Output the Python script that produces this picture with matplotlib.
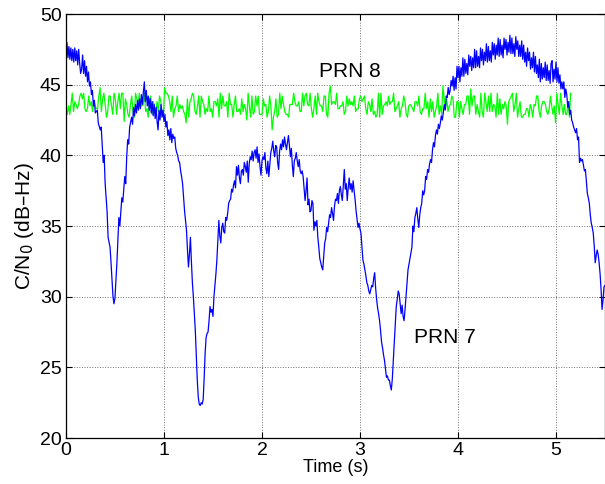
import matplotlib
matplotlib.use("Agg")
import matplotlib.pyplot as plt
import numpy as np

plt.rcParams['font.family'] = ['Liberation Sans', 'DejaVu Sans']

# PRN 7 C/N0 trace, (time s, dB-Hz)
prn7 = [
    (0.00, 47.2), (0.01, 48.0), (0.02, 46.9), (0.03, 47.7), (0.04, 46.8), (0.05, 47.6),
    (0.06, 46.7), (0.07, 47.5), (0.08, 46.6), (0.09, 47.6), (0.10, 46.7), (0.11, 47.4),
    (0.12, 46.4), (0.13, 47.5), (0.14, 46.5), (0.15, 45.8), (0.16, 46.1), (0.17, 47.1),
    (0.18, 45.8), (0.19, 46.7), (0.20, 45.6), (0.21, 46.3), (0.22, 45.2), (0.23, 45.9),
    (0.24, 44.9), (0.25, 45.2), (0.26, 44.3), (0.27, 44.6), (0.28, 43.5), (0.29, 43.9),
    (0.30, 43.0), (0.32, 43.2), (0.33, 42.3), (0.35, 41.8), (0.36, 42.0), (0.37, 40.8),
    (0.38, 39.5), (0.39, 40.0), (0.40, 38.0), (0.42, 36.0), (0.43, 34.2), (0.45, 33.5),
    (0.46, 32.4), (0.48, 30.0), (0.49, 29.5), (0.50, 29.9), (0.52, 32.4), (0.54, 35.6),
    (0.55, 35.0), (0.57, 37.0), (0.58, 36.7), (0.60, 38.5), (0.61, 38.0), (0.62, 39.9),
    (0.63, 41.1), (0.64, 40.8), (0.65, 42.0), (0.67, 42.7), (0.68, 42.2), (0.69, 43.4),
    (0.70, 42.8), (0.71, 43.6), (0.72, 43.0), (0.73, 43.9), (0.74, 43.2), (0.75, 44.0),
    (0.76, 43.3), (0.77, 44.3), (0.78, 43.6), (0.79, 44.5), (0.80, 45.2), (0.81, 43.8),
    (0.82, 44.6), (0.83, 43.5), (0.84, 44.2), (0.85, 43.2), (0.86, 44.0), (0.87, 43.0),
    (0.88, 43.8), (0.89, 42.8), (0.90, 43.6), (0.91, 42.6), (0.92, 43.4), (0.93, 42.4),
    (0.94, 41.8), (0.95, 43.2), (0.96, 42.5), (0.97, 43.6), (0.98, 42.7), (0.99, 43.2),
    (1.00, 42.4), (1.01, 42.9), (1.02, 42.0), (1.03, 42.4), (1.04, 41.4), (1.05, 41.8),
    (1.06, 41.1), (1.07, 41.9), (1.08, 40.9), (1.09, 41.5), (1.10, 41.2), (1.11, 41.3),
    (1.12, 40.5), (1.13, 40.2), (1.14, 40.0), (1.15, 39.6), (1.16, 39.5), (1.17, 38.9),
    (1.18, 38.5), (1.19, 38.0), (1.20, 37.0), (1.21, 36.1), (1.22, 35.4), (1.23, 34.7),
    (1.24, 33.3), (1.25, 32.1), (1.26, 33.0), (1.27, 34.2), (1.28, 32.5), (1.29, 31.0),
    (1.30, 30.0), (1.31, 28.8), (1.32, 27.6), (1.33, 25.8), (1.34, 24.1), (1.35, 22.9),
    (1.36, 22.4), (1.37, 22.3), (1.38, 22.5), (1.39, 22.4), (1.40, 22.7), (1.41, 24.2),
    (1.42, 26.0), (1.43, 27.1), (1.44, 27.4), (1.45, 27.5), (1.46, 28.3), (1.47, 29.3),
    (1.48, 28.9), (1.49, 29.1), (1.50, 28.6), (1.51, 30.0), (1.52, 30.8), (1.53, 31.6),
    (1.54, 32.6), (1.55, 34.0), (1.56, 35.4), (1.57, 34.3), (1.58, 33.8), (1.59, 34.9),
    (1.60, 35.2), (1.61, 34.6), (1.62, 34.5), (1.63, 35.6), (1.64, 35.4), (1.65, 35.9),
    (1.66, 36.6), (1.67, 36.8), (1.68, 36.9), (1.69, 37.6), (1.70, 37.4), (1.71, 37.9),
    (1.72, 38.2), (1.73, 37.7), (1.74, 39.2), (1.75, 38.6), (1.76, 39.3), (1.77, 38.4),
    (1.78, 38.0), (1.79, 38.9), (1.80, 39.0), (1.81, 38.6), (1.82, 39.5), (1.83, 39.2),
    (1.84, 38.8), (1.85, 39.6), (1.86, 38.1), (1.87, 39.4), (1.88, 39.9), (1.89, 39.7),
    (1.90, 40.3), (1.91, 39.6), (1.92, 40.2), (1.93, 40.4), (1.94, 39.8), (1.95, 40.6),
    (1.96, 39.5), (1.97, 40.1), (1.98, 39.2), (1.99, 38.6), (2.00, 39.6), (2.01, 39.9),
    (2.02, 39.7), (2.03, 40.2), (2.04, 39.1), (2.05, 38.7), (2.06, 39.6), (2.07, 38.5),
    (2.08, 39.4), (2.09, 40.2), (2.10, 40.5), (2.11, 41.0), (2.12, 40.3), (2.13, 39.9),
    (2.14, 40.7), (2.15, 40.6), (2.16, 39.5), (2.17, 39.0), (2.18, 40.3), (2.19, 40.8),
    (2.20, 40.4), (2.21, 41.1), (2.22, 40.6), (2.23, 41.3), (2.24, 40.8), (2.25, 40.4),
    (2.26, 40.9), (2.27, 41.4), (2.28, 40.7), (2.29, 39.9), (2.30, 40.5), (2.31, 39.3),
    (2.32, 38.5), (2.33, 39.6), (2.34, 39.8), (2.35, 40.2), (2.36, 39.6), (2.37, 39.2),
    (2.38, 39.7), (2.39, 38.9), (2.40, 38.7), (2.41, 38.9), (2.42, 38.5), (2.43, 37.6),
    (2.44, 36.8), (2.45, 37.5), (2.46, 38.4), (2.47, 36.5), (2.48, 36.9), (2.49, 36.0),
    (2.50, 36.1), (2.51, 36.8), (2.52, 36.6), (2.53, 34.7), (2.54, 35.3), (2.55, 35.0),
    (2.56, 35.4), (2.57, 34.2), (2.58, 33.5), (2.59, 32.7), (2.60, 32.4), (2.61, 32.1),
    (2.62, 31.9), (2.63, 32.8), (2.64, 33.8), (2.65, 34.1), (2.66, 34.9), (2.67, 34.6),
    (2.68, 35.2), (2.69, 35.8), (2.70, 35.6), (2.71, 36.3), (2.72, 35.9), (2.73, 35.4),
    (2.74, 36.4), (2.75, 36.9), (2.76, 36.8), (2.77, 37.3), (2.78, 36.6), (2.79, 37.5),
    (2.80, 37.8), (2.81, 37.2), (2.82, 36.8), (2.83, 37.9), (2.84, 39.0), (2.85, 37.6),
    (2.86, 38.0), (2.87, 36.8), (2.88, 37.7), (2.89, 38.4), (2.90, 37.6), (2.91, 38.0),
    (2.92, 37.4), (2.93, 38.2), (2.94, 37.5), (2.95, 36.9), (2.96, 36.1), (2.97, 35.5),
    (2.98, 34.9), (2.99, 35.2), (3.00, 34.8), (3.01, 34.5), (3.02, 33.6), (3.03, 32.6),
    (3.04, 32.3), (3.05, 31.9), (3.06, 31.5), (3.07, 31.0), (3.08, 30.8), (3.09, 30.4),
    (3.10, 30.2), (3.11, 30.5), (3.12, 30.8), (3.13, 30.7), (3.14, 31.3), (3.15, 31.7),
    (3.16, 30.6), (3.17, 29.8), (3.18, 29.2), (3.19, 28.8), (3.20, 28.3), (3.21, 27.6),
    (3.22, 26.8), (3.23, 26.4), (3.24, 25.9), (3.25, 25.5), (3.26, 24.9), (3.27, 24.3),
    (3.28, 24.4), (3.29, 24.1), (3.30, 24.1), (3.31, 23.7), (3.32, 23.4), (3.33, 24.2),
    (3.34, 25.5), (3.35, 26.9), (3.36, 28.1), (3.37, 29.3), (3.38, 29.8), (3.39, 30.4),
    (3.40, 30.2), (3.41, 29.5), (3.42, 28.8), (3.43, 29.4), (3.44, 28.6), (3.45, 28.3),
    (3.46, 29.1), (3.47, 30.0), (3.48, 31.0), (3.49, 31.9), (3.50, 32.3), (3.51, 32.7),
    (3.52, 33.1), (3.53, 33.5), (3.54, 35.0), (3.55, 34.6), (3.56, 35.6), (3.57, 35.9),
    (3.58, 36.3), (3.59, 35.5), (3.60, 34.9), (3.61, 35.8), (3.62, 36.3), (3.63, 36.6),
    (3.64, 37.5), (3.65, 37.2), (3.66, 37.5), (3.67, 38.5), (3.68, 38.3), (3.69, 39.0),
    (3.70, 38.8), (3.71, 39.4), (3.72, 39.7), (3.73, 39.5), (3.74, 40.4), (3.75, 40.9),
    (3.76, 40.6), (3.77, 41.4), (3.78, 41.8), (3.79, 41.5), (3.80, 42.2), (3.81, 41.9),
    (3.82, 42.3), (3.83, 42.8), (3.84, 42.5), (3.85, 43.0), (3.86, 43.6), (3.87, 43.2),
    (3.88, 44.2), (3.89, 44.1), (3.90, 44.8), (3.91, 44.3), (3.92, 44.6), (3.93, 45.3),
    (3.94, 44.9), (3.95, 45.6), (3.96, 44.6), (3.97, 45.5), (3.98, 44.7), (3.99, 46.3),
    (4.00, 45.5), (4.01, 46.3), (4.02, 45.2), (4.03, 46.2), (4.04, 45.6), (4.05, 46.9),
    (4.06, 45.6), (4.07, 46.8), (4.08, 45.8), (4.09, 46.5), (4.10, 45.7), (4.11, 47.1),
    (4.12, 46.3), (4.13, 47.0), (4.14, 46.0), (4.15, 46.9), (4.16, 46.2), (4.17, 47.5),
    (4.18, 46.2), (4.19, 47.4), (4.20, 46.3), (4.21, 47.0), (4.22, 46.2), (4.23, 47.6),
    (4.24, 46.7), (4.25, 47.5), (4.26, 46.4), (4.27, 47.3), (4.28, 46.7), (4.29, 47.9),
    (4.30, 46.6), (4.31, 47.7), (4.32, 46.7), (4.33, 47.4), (4.34, 46.6), (4.35, 48.0),
    (4.36, 47.1), (4.37, 47.9), (4.38, 46.8), (4.39, 47.8), (4.40, 47.1), (4.41, 48.3),
    (4.42, 47.0), (4.43, 48.2), (4.44, 47.1), (4.45, 47.8), (4.46, 46.9), (4.47, 48.3),
    (4.48, 47.5), (4.49, 48.2), (4.50, 47.1), (4.51, 48.0), (4.52, 47.3), (4.53, 48.5),
    (4.54, 47.2), (4.55, 48.3), (4.56, 47.2), (4.57, 47.9), (4.58, 47.0), (4.59, 48.4),
    (4.60, 47.5), (4.61, 48.1), (4.62, 47.0), (4.63, 47.8), (4.64, 47.0), (4.65, 48.1),
    (4.66, 46.8), (4.67, 47.8), (4.68, 46.6), (4.69, 47.3), (4.70, 46.3), (4.71, 47.6),
    (4.72, 46.7), (4.73, 47.3), (4.74, 46.1), (4.75, 46.9), (4.76, 46.2), (4.77, 47.3),
    (4.78, 45.9), (4.79, 47.0), (4.80, 45.8), (4.81, 46.4), (4.82, 45.5), (4.83, 46.8),
    (4.84, 45.2), (4.85, 46.5), (4.86, 45.4), (4.87, 46.2), (4.88, 45.5), (4.89, 46.6),
    (4.90, 45.3), (4.91, 46.4), (4.92, 45.3), (4.93, 46.0), (4.94, 45.1), (4.95, 46.5),
    (4.96, 46.7), (4.97, 45.2), (4.98, 46.1), (4.99, 45.4), (5.00, 46.6), (5.01, 45.2),
    (5.02, 46.2), (5.03, 45.1), (5.04, 45.7), (5.05, 44.7), (5.06, 45.2), (5.07, 44.7),
    (5.08, 45.2), (5.09, 44.1), (5.10, 44.7), (5.11, 44.3), (5.12, 43.4), (5.13, 43.8),
    (5.14, 42.9), (5.15, 43.2), (5.16, 42.5), (5.17, 42.3), (5.18, 42.0), (5.19, 41.8),
    (5.20, 41.6), (5.21, 41.9), (5.22, 41.1), (5.23, 41.3), (5.24, 39.5), (5.25, 39.8),
    (5.26, 39.6), (5.27, 39.7), (5.28, 39.3), (5.29, 38.9), (5.30, 39.0), (5.31, 38.1),
    (5.32, 37.3), (5.33, 37.0), (5.34, 36.6), (5.35, 35.8), (5.36, 35.2), (5.37, 34.9),
    (5.38, 34.5), (5.39, 33.6), (5.40, 32.4), (5.41, 32.9), (5.42, 33.3), (5.43, 33.0),
    (5.44, 32.4), (5.45, 31.6), (5.46, 30.5), (5.47, 29.1), (5.48, 29.8), (5.49, 30.7),
    (5.50, 30.8),
]

# PRN 8 C/N0 samples, evenly spaced from 0 to 5.15 s
prn8_end = 5.15
prn8 = [
    43.3, 42.9, 43.5, 42.9, 43.6, 44.4, 43.1, 43.8, 43.6, 43.3, 43.6, 44.2, 44.4, 44.0, 44.4, 43.3, 43.1, 43.3, 44.2, 43.5,
    43.8, 43.1, 43.8, 43.5, 43.3, 43.3, 44.2, 44.8, 43.1, 44.0, 44.4, 43.6, 42.7, 43.1, 44.2, 44.2, 43.5, 42.9, 44.4, 44.0,
    42.9, 43.8, 44.4, 43.3, 44.4, 44.4, 42.4, 44.0, 43.6, 42.9, 42.7, 43.6, 44.2, 43.1, 42.7, 44.4, 44.0, 43.5, 44.4, 43.5,
    43.5, 43.6, 44.4, 43.1, 43.3, 42.7, 44.0, 44.2, 42.9, 43.8, 43.5, 42.7, 43.8, 43.1, 44.2, 43.8, 43.1, 42.7, 44.8, 44.4,
    44.4, 44.2, 43.8, 43.1, 44.2, 42.7, 43.3, 43.5, 44.2, 43.1, 43.6, 43.3, 43.5, 43.1, 42.9, 42.3, 44.0, 42.7, 43.8, 44.0,
    44.4, 44.2, 43.1, 42.9, 43.5, 44.2, 42.7, 44.2, 43.8, 43.6, 42.9, 43.3, 43.1, 44.2, 43.1, 43.3, 42.7, 43.8, 43.8, 43.5,
    44.0, 42.7, 44.4, 43.3, 44.2, 43.5, 43.5, 43.8, 42.7, 44.4, 43.6, 43.6, 42.7, 43.6, 44.2, 43.1, 43.1, 43.3, 42.9, 44.0,
    43.1, 43.6, 43.3, 42.5, 44.4, 43.5, 42.7, 44.2, 42.9, 43.1, 44.2, 43.5, 44.2, 42.9, 42.9, 42.9, 44.0, 43.5, 43.6, 42.7,
    43.1, 44.2, 43.5, 41.8, 42.7, 43.1, 44.0, 42.7, 42.9, 44.4, 43.3, 44.2, 43.6, 43.1, 42.9, 42.9, 42.7, 43.6, 43.6, 43.6,
    44.4, 43.8, 43.5, 43.5, 43.8, 43.1, 43.1, 44.4, 43.5, 44.2, 44.4, 43.6, 43.5, 44.4, 43.3, 42.7, 43.3, 44.2, 42.9, 44.4,
    43.8, 43.5, 43.5, 43.1, 44.2, 44.2, 42.9, 42.7, 44.4, 44.9, 43.6, 43.8, 43.8, 43.6, 44.4, 43.3, 43.3, 43.5, 43.5, 43.8,
    42.9, 43.1, 44.2, 43.5, 44.0, 43.6, 43.8, 43.5, 44.2, 43.1, 43.3, 43.3, 44.0, 44.2, 43.8, 44.0, 44.2, 43.3, 42.9, 43.8,
    43.6, 43.1, 44.0, 42.9, 43.1, 42.7, 42.9, 44.4, 42.7, 44.4, 42.9, 43.5, 43.6, 43.8, 43.5, 44.2, 43.6, 43.8, 43.8, 44.4,
    43.1, 43.3, 43.5, 43.8, 42.7, 43.3, 43.5, 44.2, 43.8, 42.9, 42.7, 43.5, 43.6, 43.5, 43.3, 43.1, 43.8, 43.8, 43.5, 44.2,
    43.1, 42.9, 43.3, 43.3, 44.4, 43.3, 43.8, 42.7, 44.0, 43.1, 43.8, 42.7, 43.1, 43.5, 44.4, 42.9, 43.5, 42.9, 44.9, 44.0,
    43.3, 44.0, 43.1, 43.5, 43.6, 44.2, 44.0, 42.7, 42.7, 43.8, 43.8, 42.7, 43.8, 43.3, 42.9, 43.6, 43.6, 44.2, 44.2, 42.9,
    44.7, 43.5, 44.2, 44.2, 42.9, 43.6, 43.1, 42.7, 44.4, 43.1, 42.7, 44.4, 43.8, 43.1, 44.2, 43.1, 44.4, 43.1, 43.6, 43.5,
    42.7, 44.4, 42.9, 44.0, 42.9, 43.6, 43.3, 43.8, 43.5, 42.2, 43.8, 44.0, 44.2, 44.4, 43.1, 43.6, 44.4, 42.7, 43.3, 43.8,
    42.7, 42.7, 42.9, 42.9, 43.3, 43.3, 42.7, 43.6, 43.3, 42.7, 43.6, 43.5, 44.2, 44.2, 43.1, 42.7, 43.5, 43.8, 43.8, 43.6,
    43.1, 42.9, 43.3, 44.2, 43.5, 42.9, 43.5, 42.3, 44.4, 43.6, 42.9, 44.4, 43.5, 42.9, 43.6, 42.9, 42.9, 43.8, 42.7, 44.4,
]

x_ticks = [0, 1, 2, 3, 4, 5]
y_ticks = [20, 25, 30, 35, 40, 45, 50]

t7, v7 = zip(*prn7)
t8 = np.linspace(0, prn8_end, len(prn8))

fig = plt.figure(figsize=(6.05, 4.84), dpi=100)
ax = fig.add_axes([0.109, 0.095, 0.891, 0.876])

ax.plot(t8, prn8, color=(0, 1, 0), lw=0.9)
ax.plot(t7, v7, color=(0, 0, 1), lw=0.9)

ax.set_xlim(0, 5.5)
ax.set_ylim(20, 50)
ax.set_xticks(x_ticks)
ax.set_yticks(y_ticks)
ax.grid(True, linestyle=':', color='0.45', lw=0.7)
ax.tick_params(direction='in', length=4, top=True, right=True, labelsize=14, width=0.8, pad=3)
for s in ax.spines.values():
    s.set_linewidth(0.9)

ax.set_xlabel('Time (s)', fontsize=13, labelpad=0)
ax.set_ylabel('C/N$_0$ (dB–Hz)', fontsize=15, labelpad=3)

ax.text(2.9, 45.9, 'PRN 8', fontsize=15, ha='center', va='center')
ax.text(3.87, 27.1, 'PRN 7', fontsize=15, ha='center', va='center')

fig.savefig('out.png', dpi=100)
